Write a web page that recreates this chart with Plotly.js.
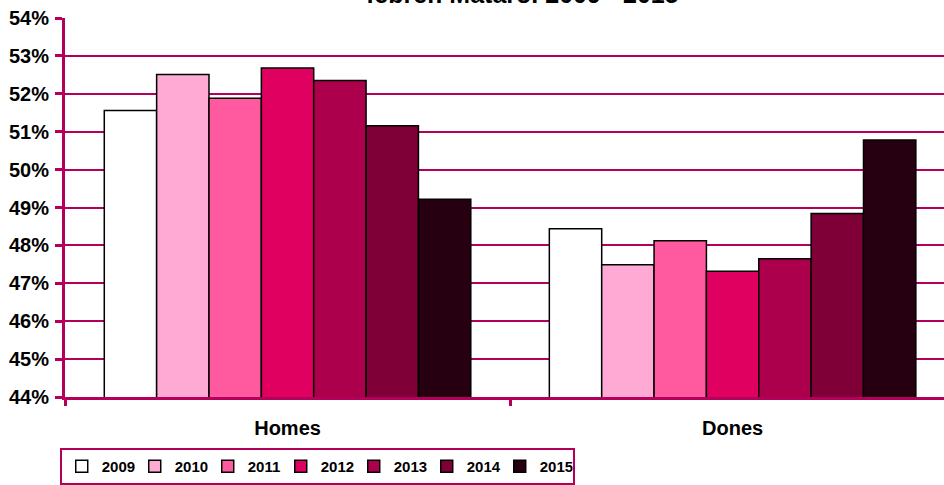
<!DOCTYPE html>
<html>
<head>
<meta charset="utf-8">
<script src="https://cdn.plot.ly/plotly-3.0.1.min.js"></script>
<style>html,body{margin:0;padding:0;background:#fff;}#chart{width:944px;height:485px;}</style>
</head>
<body>
<div id="chart"></div>
<script>
var categories = ["Homes", "Dones"];
var years = ["2009", "2010", "2011", "2012", "2013", "2014", "2015"];
var homes = [51.56, 52.51, 51.88, 52.68, 52.35, 51.16, 49.22];
var dones = [48.44, 47.49, 48.12, 47.32, 47.65, 48.84, 50.78];
var colors = ["#FFFFFF", "#FFAAD4", "#FF5AA0", "#E0005F", "#AD004C", "#7F0036", "#260010"];
var titleText = "febrer. Mataró. 2009 - 2015";

var crimson = "#B5005A";
var fontFam = "Liberation Sans, Arial, sans-serif";

var traces = years.map(function (yr, i) {
  return {
    type: "bar",
    name: yr,
    x: categories,
    y: [homes[i], dones[i]],
    marker: {color: colors[i], line: {color: "#000000", width: 1.5}},
    hoverinfo: "skip"
  };
});

var layout = {
  width: 944,
  height: 485,
  margin: {l: 65, r: 0, t: 18, b: 85, pad: 0},
  paper_bgcolor: "#FFFFFF",
  plot_bgcolor: "#FFFFFF",
  font: {family: fontFam, color: "#000000"},
  barmode: "group",
  bargap: 0.1765,
  bargroupgap: 0,
  showlegend: true,
  xaxis: {
    type: "category",
    range: [-0.5, 1.475],
    showline: true,
    linecolor: crimson,
    linewidth: 3,
    ticks: "outside",
    tickson: "boundaries",
    ticklen: 6,
    tickwidth: 3,
    tickcolor: crimson,
    showgrid: false,
    zeroline: false,
    tickfont: {family: fontFam, size: 20, color: "#000000", weight: "bold"},
    ticklabelstandoff: 11
  },
  yaxis: {
    range: [44, 54],
    dtick: 1,
    tick0: 44,
    ticksuffix: "%",
    showline: true,
    linecolor: crimson,
    linewidth: 3,
    ticks: "outside",
    ticklen: 7,
    tickwidth: 3,
    tickcolor: crimson,
    showgrid: true,
    gridcolor: crimson,
    gridwidth: 2,
    zeroline: false,
    tickfont: {family: fontFam, size: 20, color: "#000000", weight: "bold"},
    ticklabelstandoff: 2
  },
  legend: {
    orientation: "h",
    x: -0.006,
    xanchor: "left",
    y: -0.136,
    yanchor: "top",
    bgcolor: "#FFFFFF",
    bordercolor: crimson,
    borderwidth: 2,
    entrywidth: 28,
    entrywidthmode: "pixels",
    itemwidth: 30,
    font: {family: fontFam, size: 15, color: "#000000", weight: "bold"},
    traceorder: "normal"
  },
  annotations: [{
    text: titleText,
    xref: "paper",
    yref: "paper",
    x: 0.5205,
    y: 1,
    xanchor: "center",
    yanchor: "bottom",
    yshift: 8,
    showarrow: false,
    font: {family: fontFam, size: 25, color: "#000000", weight: "bold"}
  }]
};

Plotly.newPlot("chart", traces, layout, {displayModeBar: false, staticPlot: true});
</script>
</body>
</html>
